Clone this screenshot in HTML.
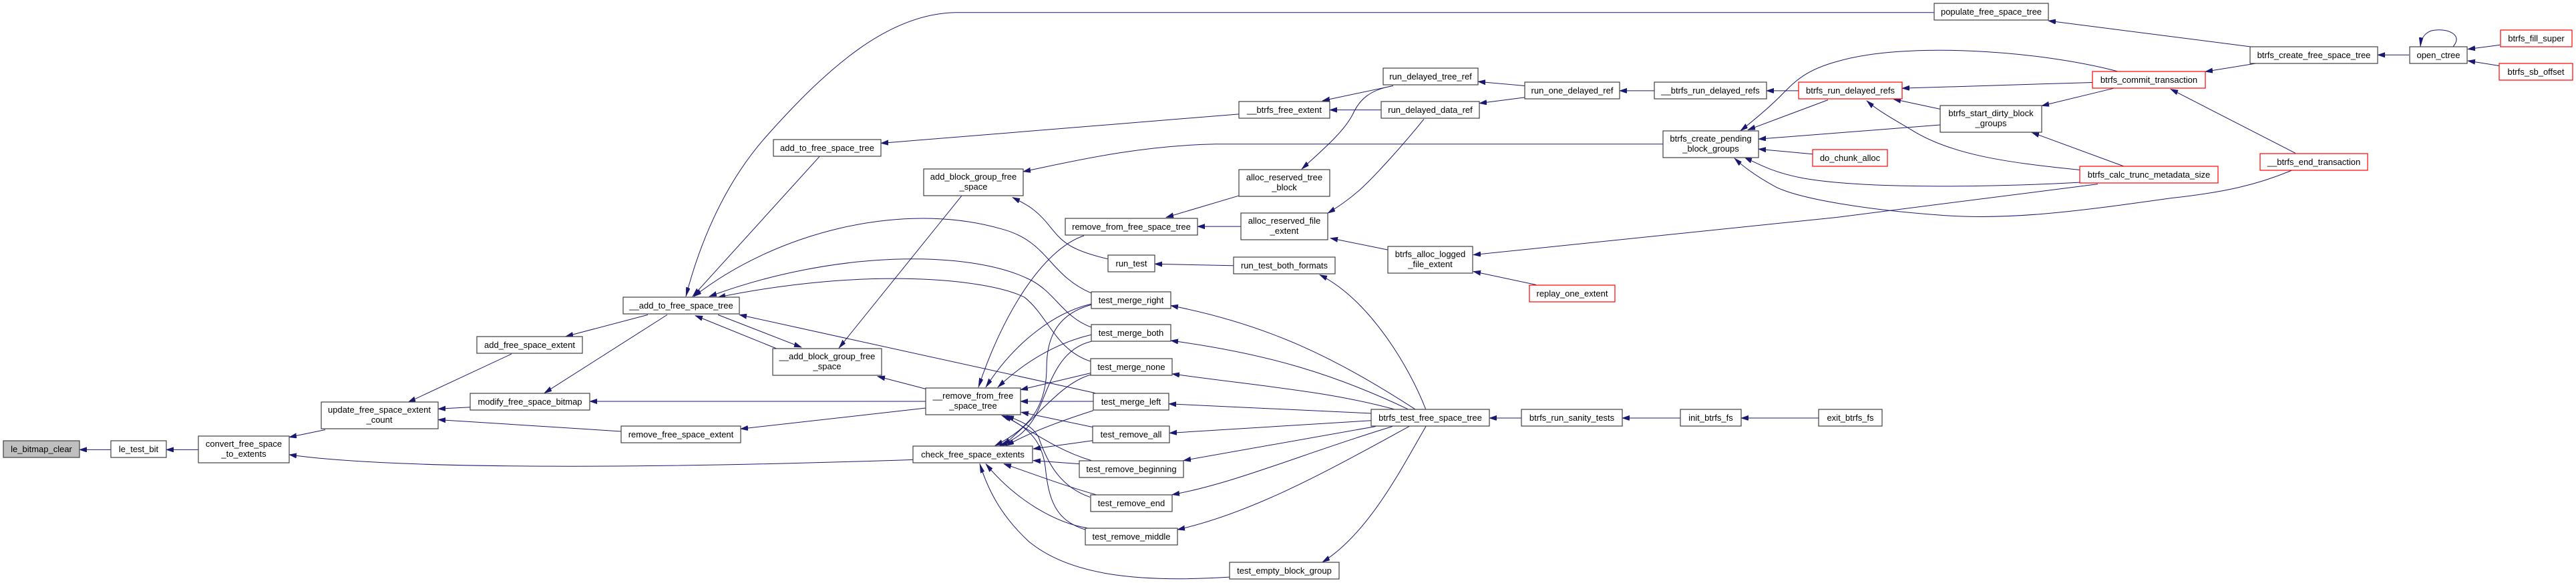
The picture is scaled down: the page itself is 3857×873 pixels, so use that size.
<!DOCTYPE html>
<html><head><meta charset="utf-8"><style>
html,body{margin:0;padding:0;background:#fff;}
svg{display:block;}
.n rect{fill:#fff;stroke:#404040;stroke-width:1.2;}
.r rect{fill:#fff;stroke:#ff0000;stroke-width:1.2;}
text{font-family:"Liberation Sans",Arial,sans-serif;font-size:13px;fill:#000;text-anchor:middle;}
.e path{fill:none;stroke:#191970;stroke-width:1;vector-effect:non-scaling-stroke;}
</style></head><body>
<svg width="3857" height="873" viewBox="0 0 3857 873" xmlns="http://www.w3.org/2000/svg">
<defs>
<marker id="a" markerUnits="userSpaceOnUse" markerWidth="14" markerHeight="14" refX="11" refY="3" orient="auto">
<path d="M0,0 L11,3 L0,6 z" fill="#191970" stroke="#191970" stroke-width="0.5"/>
</marker>
</defs>
<g class="e" transform="scale(1,1.247)">
<path marker-end="url(#a)" d="M166,540 L119,540"/>
<path marker-end="url(#a)" d="M297,540 L249,540"/>
<path marker-end="url(#a)" d="M487,516 L433,525"/>
<path marker-end="url(#a)" d="M1367,552 C1000,562 600,565 433,546"/>
<path marker-end="url(#a)" d="M766,425 L611,483"/>
<path marker-end="url(#a)" d="M704,489 L656,491"/>
<path marker-end="url(#a)" d="M930,518 L656,504"/>
<path marker-end="url(#a)" d="M970,378 L847,404"/>
<path marker-end="url(#a)" d="M999,378 L815,472"/>
<path marker-end="url(#a)" d="M1386,482 L883,482"/>
<path marker-end="url(#a)" d="M1386,490 L1109,515"/>
<path marker-end="url(#a)" d="M1386,467 L1314,452"/>
<path marker-end="url(#a)" d="M1164,419 L1041,379"/>
<path marker-end="url(#a)" d="M1075,378 L1200,417"/>
<path marker-end="url(#a)" d="M1227,188 L1037,356"/>
<path marker-end="url(#a)" d="M2896,15 L1430,15 C1330,17 1240,80 1146,165 C1080,225 1045,300 1027,356"/>
<path marker-end="url(#a)" d="M1634,352 C1570,330 1570,290 1500,275 C1350,240 1160,280 1039,356"/>
<path marker-end="url(#a)" d="M1634,393 C1590,380 1580,350 1540,335 C1450,300 1250,300 1062,356"/>
<path marker-end="url(#a)" d="M1633,434 C1580,420 1570,380 1534,357 C1480,335 1300,320 1075,357"/>
<path marker-end="url(#a)" d="M1640,472 L1107,378"/>
<path marker-end="url(#a)" d="M1440,235 L1256,418"/>
<path marker-end="url(#a)" d="M2490,173 L1820,173 C1700,175 1600,195 1532,206"/>
<path marker-end="url(#a)" d="M1659,311 C1600,300 1590,290 1570,270 C1550,250 1535,245 1516,237"/>
<path marker-end="url(#a)" d="M1623,283 C1560,300 1500,380 1465,465"/>
<path marker-end="url(#a)" d="M1634,365 C1580,375 1520,410 1476,465"/>
<path marker-end="url(#a)" d="M1634,402 C1590,410 1540,430 1494,465"/>
<path marker-end="url(#a)" d="M1633,448 L1528,468"/>
<path marker-end="url(#a)" d="M1637,482 L1528,482"/>
<path marker-end="url(#a)" d="M1637,513 L1529,495"/>
<path marker-end="url(#a)" d="M1634,553 C1580,540 1540,515 1503,499"/>
<path marker-end="url(#a)" d="M1632,597 C1590,585 1570,560 1555,525 C1545,510 1525,505 1507,499"/>
<path marker-end="url(#a)" d="M1625,636 C1580,625 1570,600 1565,560 C1560,530 1540,512 1500,499"/>
<path marker-end="url(#a)" d="M1634,366 C1570,380 1567,420 1567,446 C1565,490 1540,515 1490,535"/>
<path marker-end="url(#a)" d="M1634,410 C1580,420 1570,470 1550,500 C1535,520 1520,528 1497,535"/>
<path marker-end="url(#a)" d="M1633,450 C1590,460 1560,495 1502,535"/>
<path marker-end="url(#a)" d="M1637,493 C1590,505 1540,520 1507,535"/>
<path marker-end="url(#a)" d="M1637,529 L1547,539"/>
<path marker-end="url(#a)" d="M1616,557 L1547,553"/>
<path marker-end="url(#a)" d="M1641,594 C1600,585 1550,570 1503,557"/>
<path marker-end="url(#a)" d="M1628,634 C1580,628 1520,600 1476,557"/>
<path marker-end="url(#a)" d="M1841,693 C1700,700 1600,690 1540,650 C1500,620 1480,590 1467,557"/>
<path marker-end="url(#a)" d="M1855,235 L1746,261"/>
<path marker-end="url(#a)" d="M1858,272 L1793,272"/>
<path marker-end="url(#a)" d="M2086,103 L1980,121"/>
<path marker-end="url(#a)" d="M2068,132 L1991,132"/>
<path marker-end="url(#a)" d="M1855,137 L1319,172"/>
<path marker-end="url(#a)" d="M2086,103 C2050,108 2035,120 2025,138 C2010,160 1980,180 1949,203"/>
<path marker-end="url(#a)" d="M2132,143 C2100,175 2060,210 2040,225 C2020,240 2000,250 1988,256"/>
<path marker-end="url(#a)" d="M2078,300 L1992,286"/>
<path marker-end="url(#a)" d="M1847,319 L1729,317"/>
<path marker-end="url(#a)" d="M2135,492 C2110,440 2050,360 1976,330"/>
<path marker-end="url(#a)" d="M2120,492 C2000,430 1900,390 1753,367"/>
<path marker-end="url(#a)" d="M2110,492 C2000,450 1900,425 1753,409"/>
<path marker-end="url(#a)" d="M2090,492 C1990,470 1900,465 1755,449"/>
<path marker-end="url(#a)" d="M2070,497 L1750,485"/>
<path marker-end="url(#a)" d="M2053,505 L1751,520"/>
<path marker-end="url(#a)" d="M2060,512 L1772,553"/>
<path marker-end="url(#a)" d="M2085,512 C1950,545 1850,580 1755,594"/>
<path marker-end="url(#a)" d="M2110,512 C2000,560 1880,615 1763,636"/>
<path marker-end="url(#a)" d="M2135,512 C2100,560 2050,640 1980,675"/>
<path marker-end="url(#a)" d="M2278,502 L2230,502"/>
<path marker-end="url(#a)" d="M2516,502 L2429,502"/>
<path marker-end="url(#a)" d="M2723,502 L2607,502"/>
<path marker-end="url(#a)" d="M2283,103 L2213,98"/>
<path marker-end="url(#a)" d="M2283,117 L2215,124"/>
<path marker-end="url(#a)" d="M2477,109 L2425,109"/>
<path marker-end="url(#a)" d="M2693,109 L2645,109"/>
<path marker-end="url(#a)" d="M2737,120 L2617,156"/>
<path marker-end="url(#a)" d="M3172,86 C3050,60 2850,50 2750,74 C2700,85 2685,100 2665,116 C2645,132 2625,145 2606,157"/>
<path marker-end="url(#a)" d="M2905,150 L2633,167"/>
<path marker-end="url(#a)" d="M2714,185 L2633,179"/>
<path marker-end="url(#a)" d="M3114,219 C3000,224 2800,228 2700,214 C2660,208 2640,200 2612,189"/>
<path marker-end="url(#a)" d="M3433,204 C3380,222 3330,231 3250,238 C3100,255 3000,265 2900,258 C2800,252 2700,240 2660,225 C2630,212 2610,200 2597,190"/>
<path marker-end="url(#a)" d="M3141,221 L2750,261 L2206,306"/>
<path marker-end="url(#a)" d="M2300,342 L2206,326"/>
<path marker-end="url(#a)" d="M3133,99 L2848,106"/>
<path marker-end="url(#a)" d="M2905,131 L2835,119"/>
<path marker-end="url(#a)" d="M3114,204 C3000,195 2920,185 2862,156 C2835,143 2810,132 2795,121"/>
<path marker-end="url(#a)" d="M3165,106 L3057,127"/>
<path marker-end="url(#a)" d="M3181,200 L3042,159"/>
<path marker-end="url(#a)" d="M3379,76 L3302,86"/>
<path marker-end="url(#a)" d="M3369,56 L3067,25"/>
<path marker-end="url(#a)" d="M3437,184 L3250,107"/>
<path marker-end="url(#a)" d="M3607,66 L3560,66"/>
<path marker-end="url(#a)" d="M3673,56 C3690,40 3660,33 3640,37 C3630,40 3625,46 3624,56"/>
<path marker-end="url(#a)" d="M3743,54 L3695,59"/>
<path marker-end="url(#a)" d="M3742,79 L3695,73"/>
</g>

<g class="n"><rect x="5" y="660" width="114" height="25" style="fill:#bfbfbf"/><text x="62" y="677">le_bitmap_clear</text></g>
<g class="n"><rect x="166" y="660" width="83" height="25"/><text x="207.5" y="677">le_test_bit</text></g>
<g class="n"><rect x="297" y="653" width="136" height="40"/><text x="365" y="669">convert_free_space</text><text x="365" y="684">_to_extents</text></g>
<g class="n"><rect x="481" y="602" width="175" height="40"/><text x="568" y="618">update_free_space_extent</text><text x="568" y="633">_count</text></g>
<g class="n"><rect x="933" y="445" width="174" height="25"/><text x="1020" y="462">__add_to_free_space_tree</text></g>
<g class="n"><rect x="714" y="504" width="158" height="25"/><text x="793" y="521">add_free_space_extent</text></g>
<g class="n"><rect x="704" y="589" width="179" height="25"/><text x="793.5" y="606">modify_free_space_bitmap</text></g>
<g class="n"><rect x="930" y="638" width="179" height="25"/><text x="1019.5" y="655">remove_free_space_extent</text></g>
<g class="n"><rect x="1158" y="209" width="161" height="25"/><text x="1238.5" y="226">add_to_free_space_tree</text></g>
<g class="n"><rect x="1157" y="522" width="163" height="40"/><text x="1238.5" y="538">__add_block_group_free</text><text x="1238.5" y="553">_space</text></g>
<g class="n"><rect x="1383" y="253" width="149" height="40"/><text x="1457.5" y="269">add_block_group_free</text><text x="1457.5" y="284">_space</text></g>
<g class="n"><rect x="1386" y="581" width="142" height="40"/><text x="1457" y="597">__remove_from_free</text><text x="1457" y="612">_space_tree</text></g>
<g class="n"><rect x="1367" y="668" width="179" height="25"/><text x="1456.5" y="685">check_free_space_extents</text></g>
<g class="n"><rect x="1595" y="327" width="198" height="25"/><text x="1694" y="344">remove_from_free_space_tree</text></g>
<g class="n"><rect x="1659" y="382" width="70" height="25"/><text x="1694" y="399">run_test</text></g>
<g class="n"><rect x="1634" y="437" width="119" height="25"/><text x="1693.5" y="454">test_merge_right</text></g>
<g class="n"><rect x="1634" y="486" width="119" height="25"/><text x="1693.5" y="503">test_merge_both</text></g>
<g class="n"><rect x="1633" y="537" width="122" height="25"/><text x="1694" y="554">test_merge_none</text></g>
<g class="n"><rect x="1637" y="589" width="113" height="25"/><text x="1693.5" y="606">test_merge_left</text></g>
<g class="n"><rect x="1636" y="638" width="115" height="25"/><text x="1693.5" y="655">test_remove_all</text></g>
<g class="n"><rect x="1616" y="690" width="156" height="25"/><text x="1694" y="707">test_remove_beginning</text></g>
<g class="n"><rect x="1633" y="741" width="122" height="25"/><text x="1694" y="758">test_remove_end</text></g>
<g class="n"><rect x="1625" y="791" width="138" height="25"/><text x="1694" y="808">test_remove_middle</text></g>
<g class="n"><rect x="1841" y="842" width="164" height="25"/><text x="1923" y="859">test_empty_block_group</text></g>
<g class="n"><rect x="1855" y="152" width="136" height="25"/><text x="1923" y="169">__btrfs_free_extent</text></g>
<g class="n"><rect x="1855" y="254" width="136" height="40"/><text x="1923" y="270">alloc_reserved_tree</text><text x="1923" y="285">_block</text></g>
<g class="n"><rect x="1858" y="319" width="130" height="40"/><text x="1923" y="335">alloc_reserved_file</text><text x="1923" y="350">_extent</text></g>
<g class="n"><rect x="1847" y="385" width="152" height="25"/><text x="1923" y="402">run_test_both_formats</text></g>
<g class="n"><rect x="2071" y="102" width="142" height="25"/><text x="2142" y="119">run_delayed_tree_ref</text></g>
<g class="n"><rect x="2068" y="152" width="147" height="25"/><text x="2141.5" y="169">run_delayed_data_ref</text></g>
<g class="n"><rect x="2078" y="369" width="127" height="40"/><text x="2141.5" y="385">btrfs_alloc_logged</text><text x="2141.5" y="400">_file_extent</text></g>
<g class="n"><rect x="2053" y="613" width="177" height="25"/><text x="2141.5" y="630">btrfs_test_free_space_tree</text></g>
<g class="n"><rect x="2283" y="123" width="142" height="25"/><text x="2354" y="140">run_one_delayed_ref</text></g>
<g class="r"><rect x="2290" y="427" width="128" height="25"/><text x="2354" y="444">replay_one_extent</text></g>
<g class="n"><rect x="2278" y="613" width="151" height="25"/><text x="2353.5" y="630">btrfs_run_sanity_tests</text></g>
<g class="n"><rect x="2477" y="123" width="168" height="25"/><text x="2561" y="140">__btrfs_run_delayed_refs</text></g>
<g class="n"><rect x="2490" y="196" width="143" height="40"/><text x="2561.5" y="212">btrfs_create_pending</text><text x="2561.5" y="227">_block_groups</text></g>
<g class="n"><rect x="2516" y="613" width="91" height="25"/><text x="2561.5" y="630">init_btrfs_fs</text></g>
<g class="r"><rect x="2693" y="123" width="155" height="25"/><text x="2770.5" y="140">btrfs_run_delayed_refs</text></g>
<g class="r"><rect x="2714" y="224" width="112" height="25"/><text x="2770" y="241">do_chunk_alloc</text></g>
<g class="n"><rect x="2723" y="613" width="95" height="25"/><text x="2770.5" y="630">exit_btrfs_fs</text></g>
<g class="n"><rect x="2896" y="5" width="171" height="25"/><text x="2981.5" y="22">populate_free_space_tree</text></g>
<g class="n"><rect x="2905" y="158" width="152" height="40"/><text x="2981" y="174">btrfs_start_dirty_block</text><text x="2981" y="189">_groups</text></g>
<g class="r"><rect x="3133" y="107" width="169" height="25"/><text x="3217.5" y="124">btrfs_commit_transaction</text></g>
<g class="r"><rect x="3114" y="249" width="207" height="25"/><text x="3217.5" y="266">btrfs_calc_trunc_metadata_size</text></g>
<g class="n"><rect x="3369" y="70" width="191" height="25"/><text x="3464.5" y="87">btrfs_create_free_space_tree</text></g>
<g class="r"><rect x="3384" y="230" width="161" height="25"/><text x="3464.5" y="247">__btrfs_end_transaction</text></g>
<g class="n"><rect x="3608" y="70" width="86" height="25"/><text x="3651" y="87">open_ctree</text></g>
<g class="r"><rect x="3744" y="45" width="107" height="25"/><text x="3797.5" y="62">btrfs_fill_super</text></g>
<g class="r"><rect x="3742" y="95" width="110" height="25"/><text x="3797" y="112">btrfs_sb_offset</text></g>
</svg>
</body></html>
